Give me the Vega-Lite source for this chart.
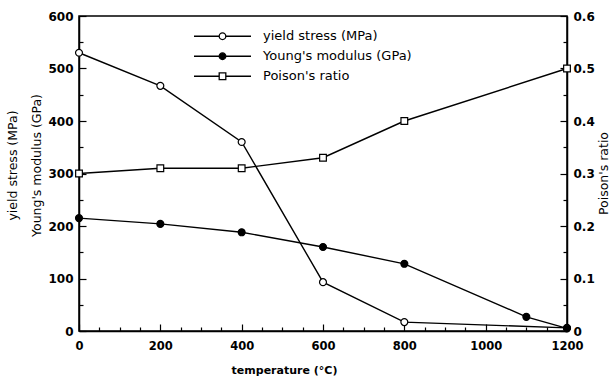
{
  "$schema": "https://vega.github.io/schema/vega-lite/v6.json",
  "width": 488,
  "height": 315,
  "autosize": "none",
  "padding": {"left": 79, "top": 16, "right": 43, "bottom": 50},
  "background": "white",
  "config": {
    "view": {"stroke": "black", "strokeWidth": 1.5},
    "axis": {
      "grid": false,
      "domainColor": "black",
      "domainWidth": 1.5,
      "tickColor": "black",
      "tickWidth": 1.2,
      "labelColor": "black",
      "labelFont": "DejaVu Sans",
      "labelFontWeight": "bold",
      "titleColor": "black"
    }
  },
  "data": {
    "values": [
      {"series": "yield stress (MPa)", "temperature": 0, "value": 530},
      {"series": "yield stress (MPa)", "temperature": 200, "value": 467},
      {"series": "yield stress (MPa)", "temperature": 400, "value": 360},
      {"series": "yield stress (MPa)", "temperature": 600, "value": 93},
      {"series": "yield stress (MPa)", "temperature": 800, "value": 17},
      {"series": "yield stress (MPa)", "temperature": 1200, "value": 6},
      {"series": "Young's modulus (GPa)", "temperature": 0, "value": 215},
      {"series": "Young's modulus (GPa)", "temperature": 200, "value": 204},
      {"series": "Young's modulus (GPa)", "temperature": 400, "value": 188},
      {"series": "Young's modulus (GPa)", "temperature": 600, "value": 160},
      {"series": "Young's modulus (GPa)", "temperature": 800, "value": 128},
      {"series": "Young's modulus (GPa)", "temperature": 1100, "value": 27},
      {"series": "Young's modulus (GPa)", "temperature": 1200, "value": 5},
      {"series": "Poison's ratio", "temperature": 0, "value": 0.30},
      {"series": "Poison's ratio", "temperature": 200, "value": 0.31},
      {"series": "Poison's ratio", "temperature": 400, "value": 0.31},
      {"series": "Poison's ratio", "temperature": 600, "value": 0.33},
      {"series": "Poison's ratio", "temperature": 800, "value": 0.40},
      {"series": "Poison's ratio", "temperature": 1200, "value": 0.50}
    ]
  },
  "encoding": {
    "x": {
      "field": "temperature",
      "type": "quantitative",
      "scale": {"domain": [0, 1200], "nice": false},
      "axis": {
        "values": [0, 50, 100, 150, 200, 250, 300, 350, 400, 450, 500, 550, 600, 650, 700, 750, 800, 850, 900, 950, 1000, 1050, 1100, 1150, 1200],
        "format": "d",
        "labelExpr": "datum.value % 200 === 0 ? datum.label : ''",
        "tickSize": {"condition": {"test": "datum.value % 200 === 0", "value": -7}, "value": -4},
        "labelPadding": 16,
        "labelFontSize": 11.5,
        "labelFlush": false,
        "labelOverlap": false,
        "title": "temperature (°C)",
        "titleFont": "DejaVu Sans",
        "titleFontSize": 11,
        "titleFontWeight": "bold",
        "titleX": 205,
        "titleY": 39,
        "titleAlign": "center",
        "titleBaseline": "middle"
      }
    }
  },
  "layer": [
    {
      "transform": [{"filter": {"not": {"field": "series", "equal": "Poison's ratio"}}}],
      "encoding": {
        "y": {
          "field": "value",
          "type": "quantitative",
          "scale": {"domain": [0, 600], "nice": false},
          "axis": {
            "orient": "left",
            "values": [0, 50, 100, 150, 200, 250, 300, 350, 400, 450, 500, 550, 600],
            "format": "d",
            "labelExpr": "datum.value % 100 === 0 ? datum.label : ''",
            "tickSize": {"condition": {"test": "datum.value % 100 === 0", "value": -7}, "value": -4},
            "labelPadding": 13,
            "labelFontSize": 12,
            "labelFlush": false,
            "labelOverlap": false,
            "title": ["yield stress (MPa)", "Young's modulus (GPa)"],
            "titleFont": "DejaVu Sans",
            "titleFontSize": 12.5,
            "titleFontWeight": "normal",
            "titleLineHeight": 24,
            "titleAngle": 270,
            "titleX": -67,
            "titleY": 149,
            "titleAlign": "center",
            "titleBaseline": "middle"
          }
        }
      },
      "layer": [
        {
          "mark": {"type": "line", "color": "black", "strokeWidth": 1.4},
          "encoding": {"detail": {"field": "series"}}
        },
        {
          "mark": {"type": "point", "shape": "circle", "filled": true, "stroke": "black", "strokeWidth": 1.2, "size": 48, "opacity": 1},
          "encoding": {
            "fill": {
              "field": "series",
              "type": "nominal",
              "scale": {"domain": ["yield stress (MPa)", "Young's modulus (GPa)", "Poison's ratio"], "range": ["white", "black", "white"]}
            }
          }
        },
        {
          "mark": {"type": "point", "filled": false, "color": "black", "strokeWidth": 1.3, "size": 0, "opacity": 1},
          "encoding": {
            "shape": {
              "field": "series",
              "type": "nominal",
              "scale": {
                "domain": ["yield stress (MPa)", "Young's modulus (GPa)", "Poison's ratio"],
                "range": [
                  "M-1,0L-0.116,0M0.116,0L1,0M-0.116,0A0.116,0.116,0,1,0,0.116,0A0.116,0.116,0,1,0,-0.116,0Z",
                  "M-1,0L-0.116,0M0.116,0L1,0M-0.116,0A0.116,0.116,0,1,0,0.116,0A0.116,0.116,0,1,0,-0.116,0Z",
                  "M-1,0L-0.116,0M0.116,0L1,0M-0.116,-0.116L0.116,-0.116L0.116,0.116L-0.116,0.116Z"
                ]
              },
              "legend": {
                "orient": "none",
                "legendX": 114,
                "legendY": 13,
                "title": null,
                "padding": 0,
                "symbolSize": 3249,
                "symbolStrokeWidth": 1.3,
                "symbolStrokeColor": "black",
                "symbolOpacity": 1,
                "clipHeight": 14.5,
                "labelFont": "DejaVu Sans",
                "labelFontSize": 13,
                "labelColor": "black",
                "labelOffset": 11,
                "rowPadding": 5
              }
            },
            "fill": {"field": "series", "type": "nominal"}
          }
        }
      ]
    },
    {
      "transform": [{"filter": {"field": "series", "equal": "Poison's ratio"}}],
      "encoding": {
        "y": {
          "field": "value",
          "type": "quantitative",
          "scale": {"domain": [0, 0.6], "nice": false},
          "axis": {
            "orient": "right",
            "values": [0, 0.05, 0.1, 0.15, 0.2, 0.25, 0.3, 0.35, 0.4, 0.45, 0.5, 0.55, 0.6],
            "format": ".1~f",
            "labelExpr": "round(datum.value * 100) % 10 === 0 ? datum.label : ''",
            "tickSize": {"condition": {"test": "round(datum.value * 100) % 10 === 0", "value": -7}, "value": -4},
            "labelPadding": 13,
            "labelFontSize": 12,
            "labelFlush": false,
            "labelOverlap": false,
            "title": "Poison's ratio",
            "titleFont": "DejaVu Sans",
            "titleFontSize": 12.5,
            "titleFontWeight": "normal",
            "titleAngle": 270,
            "titleX": 36,
            "titleY": 157,
            "titleAlign": "center",
            "titleBaseline": "middle"
          }
        }
      },
      "layer": [
        {
          "mark": {"type": "line", "color": "black", "strokeWidth": 1.4},
          "encoding": {"detail": {"field": "series"}}
        },
        {
          "mark": {"type": "point", "shape": "square", "filled": true, "stroke": "black", "strokeWidth": 1.2, "size": 45, "opacity": 1},
          "encoding": {
            "fill": {"field": "series", "type": "nominal"}
          }
        }
      ]
    }
  ],
  "resolve": {"scale": {"y": "independent"}}
}
